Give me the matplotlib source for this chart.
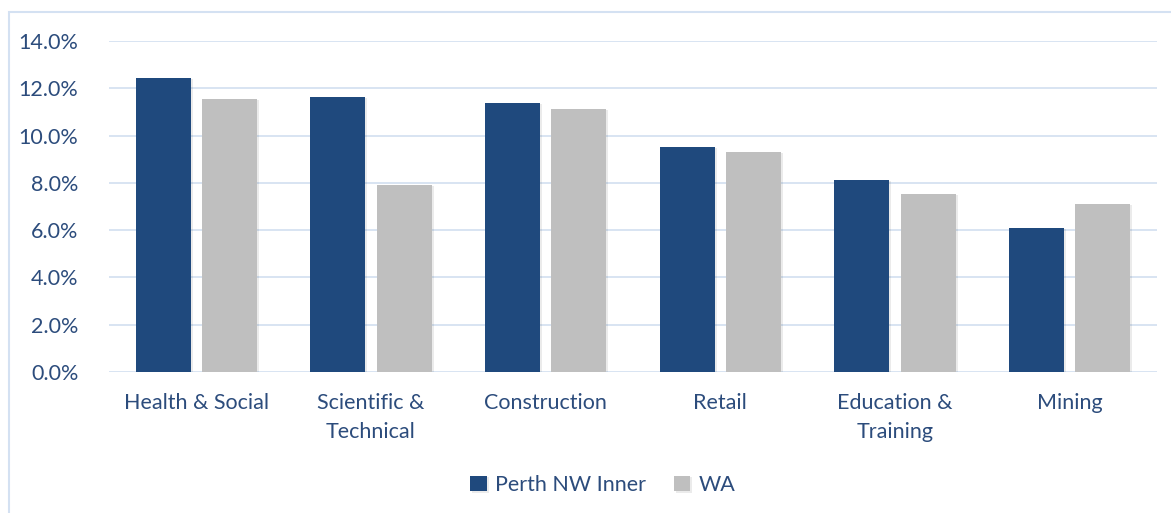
import matplotlib
matplotlib.use("Agg")
import matplotlib.pyplot as plt
import matplotlib.patheffects as pe
from matplotlib.patches import Rectangle
import numpy as np

categories = ["Health & Social", "Scientific &\nTechnical", "Construction", "Retail",
              "Education &\nTraining", "Mining"]
perth_nw_inner = [12.44, 11.63, 11.38, 9.52, 8.14, 6.09]
wa = [11.55, 7.91, 11.12, 9.31, 7.53, 7.11]
series_names = ["Perth NW Inner", "WA"]
yticks = [0, 2, 4, 6, 8, 10, 12, 14]

navy = "#1F497D"
grey = "#BFBFBF"
text_c = "#2C4C7C"
grid_c = "#D6E2F1"

plt.rcParams['font.family'] = ['Lato', 'DejaVu Sans']

fig = plt.figure(figsize=(11.71, 5.13), dpi=100)
ax = fig.add_axes([109/1171, 1 - 372/513, (1157-109)/1171, (372-41)/513])

# outer frame
fig.patches.append(Rectangle((9/1171, -0.01), 1.2, 1 - 12/513 + 0.01,
                             transform=fig.transFigure, fill=False,
                             edgecolor="#D4E1F2", linewidth=1.5))

x = np.arange(len(categories))
w = 0.315
off = 0.19
shadow = [pe.SimplePatchShadow(offset=(1.5, -1), shadow_rgbFace="#000000", alpha=0.08), pe.Normal()]
b1 = ax.bar(x - off, perth_nw_inner, w, color=navy, label=series_names[0], zorder=3)
b2 = ax.bar(x + off, wa, w, color=grey, label=series_names[1], zorder=3)
for b in list(b1) + list(b2):
    b.set_path_effects(shadow)

ax.set_xlim(-0.5, len(categories) - 0.5)
ax.set_ylim(0, 14)
ax.set_yticks(yticks)
ax.set_yticklabels([f"{v:.1f}%" for v in yticks])
ax.yaxis.grid(True, color=grid_c, linewidth=1.3, zorder=0)
ax.set_axisbelow(True)
for s in ax.spines.values():
    s.set_visible(False)
ax.tick_params(axis='both', length=0, labelsize=15.5, colors=text_c)
ax.tick_params(axis='y', pad=22)
ax.tick_params(axis='x', pad=15)
ax.set_xticks(x)
ax.set_xticklabels(categories, linespacing=1.55)

leg = fig.legend(handles=[b1, b2], labels=series_names, loc='center',
                 bbox_to_anchor=(603/1171, 1 - 485/513), ncol=2, frameon=False,
                 fontsize=15.5, handlelength=0.75, handleheight=0.75, columnspacing=1.3,
                 handletextpad=0.4)
for t in leg.get_texts():
    t.set_color(text_c)

fig.savefig("out.png", dpi=100)
